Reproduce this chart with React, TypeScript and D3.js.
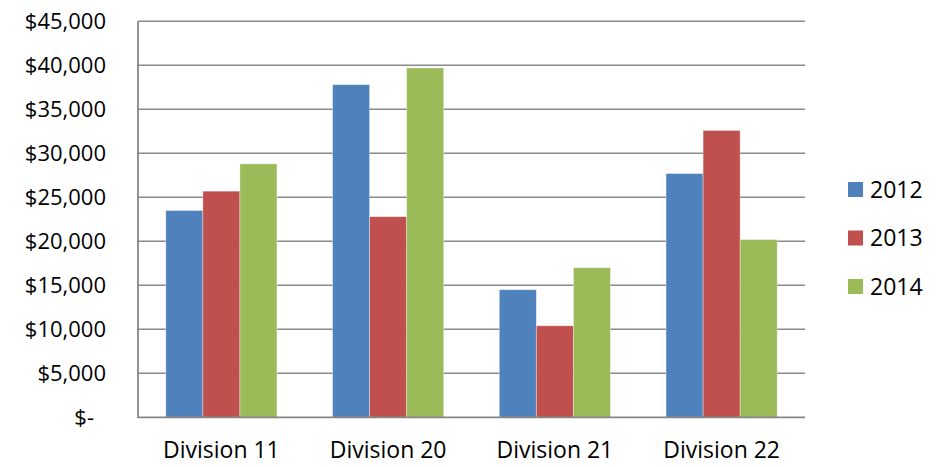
import React from 'react';
import * as d3 from 'd3';

// chart data
const divisions = ['Division 11', 'Division 20', 'Division 21', 'Division 22'];
const years = ['2012', '2013', '2014'];
const values2012 = [23500, 37800, 14500, 27700];
const values2013 = [25700, 22800, 10400, 32600];
const values2014 = [28800, 39700, 17000, 20200];
const yTicks = [0, 5000, 10000, 15000, 20000, 25000, 30000, 35000, 40000, 45000];
const colors = ['#4F81BD', '#C0504D', '#9BBB59'];

const seriesValues = [values2012, values2013, values2014];

const width = 942;
const height = 467;
const plot = { left: 138, right: 805, top: 21.3, bottom: 417.3 };
const font = '"Open Sans", "Noto Sans", sans-serif';

const App: React.FC = () => {
  const x0 = d3.scaleBand<string>()
    .domain(divisions)
    .range([plot.left, plot.right])
    .padding(0);

  // Excel-style gap width of 50%: group takes 2/3 of the band
  const bw = x0.bandwidth();
  const x1 = d3.scaleBand<string>()
    .domain(years)
    .range([bw / 6, bw * 5 / 6])
    .padding(0);

  const y = d3.scaleLinear()
    .domain([0, 45000])
    .range([plot.bottom, plot.top]);

  const fmt = (v: number) => (v === 0 ? '$-' : '$' + d3.format(',')(v));

  return (
    <svg width={width} height={height} style={{ position: 'absolute', left: 0, top: 0, background: '#fff' }}>
      {/* gridlines */}
      <g>
        {yTicks.filter(t => t > 0).map(t => (
          <line key={t} x1={plot.left} x2={plot.right} y1={y(t)} y2={y(t)}
            stroke="#8a8a8a" strokeWidth={1.6} />
        ))}
      </g>

      {/* bars */}
      <g>
        {divisions.map((div, i) => (
          <g key={div} transform={`translate(${x0(div)},0)`}>
            {years.map((yr, j) => {
              const v = seriesValues[j][i];
              return (
                <rect key={yr}
                  x={x1(yr)}
                  y={y(v)}
                  width={x1.bandwidth()}
                  height={y(0) - y(v)}
                  fill={colors[j]}
                  stroke="#ffffff"
                  strokeOpacity={0.45}
                  strokeWidth={0.8} />
              );
            })}
          </g>
        ))}
      </g>

      {/* axes */}
      <line x1={plot.left} x2={plot.left} y1={plot.top} y2={plot.bottom + 0.8}
        stroke="#868686" strokeWidth={1.8} />
      <line x1={plot.left} x2={plot.right} y1={plot.bottom} y2={plot.bottom}
        stroke="#868686" strokeWidth={1.8} />

      {/* y tick labels */}
      <g fontFamily={font} fontSize={22} fill="#000">
        {yTicks.map(t => (
          <text key={t}
            x={t === 0 ? 94 : 106}
            y={y(t)}
            dy="0.33em"
            textAnchor="end">
            {fmt(t)}
          </text>
        ))}
      </g>

      {/* x labels */}
      <g fontFamily={font} fontSize={23} fill="#000">
        {divisions.map(div => (
          <text key={div}
            x={(x0(div) || 0) + bw / 2}
            y={458}
            textAnchor="middle">
            {div}
          </text>
        ))}
      </g>

      {/* legend */}
      <g fontFamily={font} fontSize={23} fill="#000">
        {years.map((yr, j) => {
          const cy = 189.5 + j * 48.5;
          return (
            <g key={yr}>
              <rect x={848} y={cy - 7.5} width={15} height={15} fill={colors[j]} />
              <text x={870} y={cy} dy="0.36em">{yr}</text>
            </g>
          );
        })}
      </g>
    </svg>
  );
};

export default App;
